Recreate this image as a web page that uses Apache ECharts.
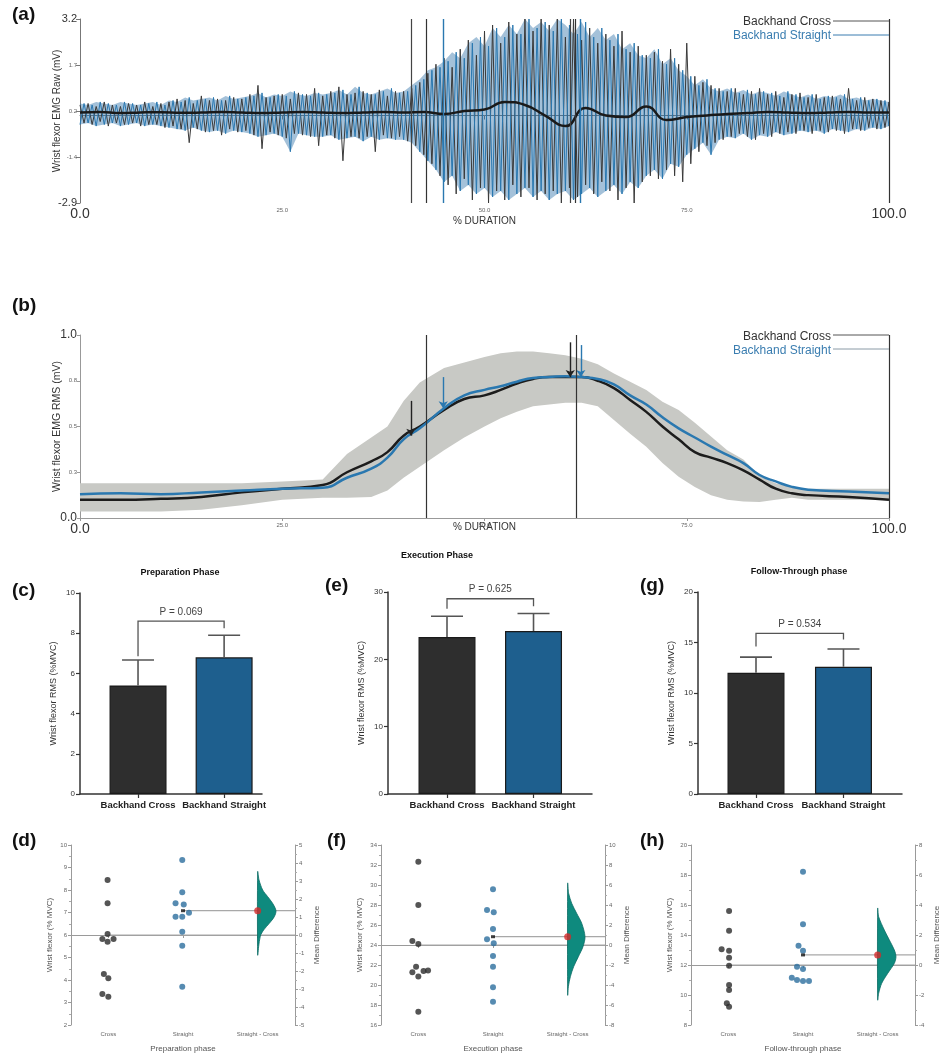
<!DOCTYPE html>
<html>
<head>
<meta charset="utf-8">
<script src="https://cdn.jsdelivr.net/npm/echarts@6/dist/echarts.min.js"></script>
<style>
  html, body { margin: 0; padding: 0; background: #fff; }
  #chart { width: 942px; height: 1063px; }
</style>
</head>
<body>
<div id="chart"></div>
<script>
const FONT = '"Liberation Sans", Arial, Helvetica, sans-serif';
const BLUE = '#2a78b0';

// ---- (a) raw EMG: upper / lower swing per 1 % of the stroke (0..100) ----
const pctTicks = [0, 25, 50, 75, 100];
const pctLabels = ['0.0', '25.0', '50.0', '75.0', '100.0'];
const rawTicks = [-2.9, -1.375, 0.15, 1.675, 3.2];
const rawLabels = ['-2.9', '-1.4', '0.2', '1.7', '3.2'];

const crossUp = [
  0.35, 0.4, 0.3, 0.45, 0.35, 0.3, 0.4, 0.35, 0.45, 0.3,
  0.4, 0.45, 0.55, 0.5, 0.4, 0.65, 0.5, 0.55, 0.5, 0.6,
  0.55, 0.7, 1.0, 0.6, 0.65, 0.7, 0.55, 0.75, 0.7, 0.9,
  0.65, 0.8, 0.95, 0.7, 0.75, 0.8, 0.7, 0.85, 0.65, 0.8,
  0.8, 0.9, 1.1, 1.4, 1.7, 1.9, 1.6, 2.2, 2.5, 2.0,
  2.8, 3.0, 2.4, 3.1, 2.7, 3.2, 2.8, 3.2, 3.0, 3.2,
  2.6, 3.2, 2.5, 2.9, 2.4, 2.7, 2.3, 2.8, 2.1, 2.3,
  2.0, 2.1, 1.8, 2.2, 1.7, 2.4, 1.3, 1.1, 1.0, 0.9,
  0.8, 0.9, 0.7, 0.8, 0.9, 0.7, 0.8, 0.6, 0.7, 0.75,
  0.6, 0.7, 0.6, 0.65, 0.55, 0.9, 0.5, 0.6, 0.55, 0.5, 0.45
];
const crossLo = [
  -0.25, -0.3, -0.2, -0.35, -0.25, -0.3, -0.25, -0.35, -0.3, -0.3,
  -0.4, -0.35, -0.45, -0.9, -0.45, -0.55, -0.5, -0.65, -0.45, -0.55,
  -0.5, -0.65, -1.1, -0.55, -0.65, -0.75, -0.6, -0.65, -0.7, -1.0,
  -0.65, -0.75, -1.5, -0.7, -0.75, -0.7, -1.2, -0.65, -0.75, -0.7,
  -0.85, -1.0, -1.3, -1.6, -2.0, -2.3, -2.6, -2.1, -2.8, -2.4,
  -2.9, -2.5, -2.8, -2.3, -2.7, -2.4, -2.8, -2.6, -2.5, -2.9,
  -2.4, -2.7, -2.3, -2.6, -2.2, -2.5, -2.8, -2.4, -2.9, -2.2,
  -2.0, -2.1, -1.8, -2.0, -2.2, -1.6, -1.2, -1.0, -0.9, -0.8,
  -0.7, -0.6, -0.7, -0.8, -0.6, -0.7, -0.6, -0.55, -0.6, -0.5,
  -0.6, -0.5, -0.55, -0.5, -0.6, -0.45, -0.5, -0.4, -0.45, -0.4, -0.35
];
const straightUp = [
  0.4, 0.35, 0.45, 0.4, 0.35, 0.45, 0.4, 0.35, 0.4, 0.45,
  0.35, 0.5, 0.45, 0.6, 0.5, 0.55, 0.6, 0.5, 0.65, 0.55,
  0.6, 0.65, 0.75, 0.6, 0.7, 0.65, 0.8, 0.7, 0.65, 0.75,
  0.7, 0.75, 0.85, 0.7, 0.95, 0.75, 0.7, 0.8, 0.9, 0.75,
  0.8, 1.0, 1.2, 1.5, 1.6, 1.8, 2.1, 1.9, 2.4, 2.6,
  2.3, 2.9, 2.6, 3.0, 2.7, 3.2, 2.9, 3.1, 2.8, 3.2,
  3.0, 2.7, 3.1, 2.6, 2.9, 2.5, 2.7, 2.2, 2.4, 2.0,
  1.9, 2.2, 1.7, 1.9, 1.5, 1.3, 1.0, 1.2, 0.9, 0.8,
  0.9, 0.75, 0.85, 0.7, 0.8, 0.75, 0.65, 0.8, 0.7, 0.6,
  0.7, 0.55, 0.65, 0.6, 0.7, 0.55, 0.6, 0.5, 0.55, 0.5, 0.45
];
const straightLo = [
  -0.3, -0.25, -0.35, -0.3, -0.25, -0.35, -0.3, -0.25, -0.35, -0.3,
  -0.35, -0.4, -0.45, -0.5, -0.4, -0.5, -0.55, -0.5, -0.6, -0.5,
  -0.55, -0.6, -0.7, -0.65, -0.6, -0.7, -1.2, -0.6, -0.65, -0.7,
  -0.7, -0.65, -0.8, -0.75, -0.7, -0.85, -0.7, -0.8, -0.75, -0.8,
  -0.8, -0.9, -1.2, -1.5, -1.8, -2.2, -2.0, -2.5, -2.3, -2.6,
  -2.4, -2.7, -2.5, -2.8, -2.6, -2.4, -2.7, -2.5, -2.8, -2.6,
  -2.5, -2.8, -2.6, -2.4, -2.7, -2.5, -2.3, -2.6, -2.2, -2.4,
  -2.0, -1.8, -2.1, -1.6, -1.7, -1.3, -1.1, -0.9, -1.3, -0.8,
  -0.7, -0.75, -0.6, -0.8, -0.65, -0.7, -0.55, -0.65, -0.6, -0.5,
  -0.55, -0.5, -0.6, -0.45, -0.5, -0.55, -0.45, -0.5, -0.4, -0.45, -0.35
];
// ensemble mean, every 2.5 %
const rawMean = [
  0.1, 0.12, 0.08, 0.1, 0.11, 0.09, 0.1, 0.12, 0.1, 0.08,
  0.1, 0.12, 0.1, 0.08, 0.1, 0.12, 0.1, 0.12, 0.05, 0.15,
  0.2, 0.45, 0.35, 0.0, -0.35, 0.25, 0.0, -0.05, 0.3, -0.15,
  -0.05, 0.0, 0.05, 0.08, 0.12, 0.1, 0.08, 0.1, 0.12, 0.1, 0.1
];
const crossEventsA = [40.9, 60.6];
const straightEventsA = [44.9, 61.8];
const phaseLines = [42.8, 61.2];

// ---- (b) RMS envelope ----
const rmsTicks = [0, 0.25, 0.5, 0.75, 1];
const rmsLabels = ['0.0', '0.3', '0.5', '0.8', '1.0'];
const rmsX = [0, 5, 10, 15, 20, 25, 30, 33, 36, 38, 40, 42, 45, 47.5, 50, 52, 54, 56, 58, 60,
  62, 64, 66, 68, 70, 72, 74, 76, 78, 80, 82, 84, 86, 88, 90, 95, 100];
const rmsCross = [0.1, 0.1, 0.105, 0.115, 0.14, 0.16, 0.18, 0.25, 0.31, 0.36, 0.45, 0.5, 0.59, 0.65, 0.67, 0.7, 0.735, 0.76, 0.77, 0.77,
  0.77, 0.75, 0.71, 0.645, 0.58, 0.5, 0.43, 0.36, 0.33, 0.3, 0.26, 0.21, 0.16, 0.135, 0.125, 0.115, 0.1];
const rmsStraight = [0.13, 0.135, 0.13, 0.14, 0.15, 0.16, 0.165, 0.22, 0.27, 0.33, 0.43, 0.49, 0.6, 0.67, 0.7, 0.72, 0.745, 0.765, 0.77, 0.775,
  0.77, 0.76, 0.73, 0.67, 0.62, 0.55, 0.49, 0.44, 0.39, 0.345, 0.3, 0.235, 0.2, 0.17, 0.155, 0.145, 0.135];
const rmsSdHi = [0.19, 0.19, 0.19, 0.19, 0.19, 0.2, 0.21, 0.35, 0.44, 0.5, 0.64, 0.74, 0.82, 0.85, 0.88, 0.9, 0.91, 0.91, 0.9, 0.89,
  0.87, 0.84, 0.79, 0.745, 0.7, 0.635, 0.59, 0.52, 0.445, 0.37, 0.32, 0.23, 0.19, 0.17, 0.16, 0.16, 0.16];
const rmsSdLo = [0.035, 0.035, 0.035, 0.045, 0.07, 0.1, 0.11, 0.11, 0.115, 0.15, 0.22, 0.28, 0.37, 0.44, 0.5, 0.545, 0.58, 0.61, 0.62, 0.63,
  0.63, 0.61, 0.535, 0.46, 0.39, 0.3, 0.225, 0.17, 0.125, 0.1, 0.09, 0.087, 0.1, 0.11, 0.1, 0.1, 0.1];
const rmsPhaseLines = [42.8, 61.3, 100];
// [x, from, to]
const arrowsCross = [[40.9, 0.64, 0.45], [60.6, 0.96, 0.77]];
const arrowsStraight = [[44.9, 0.77, 0.6], [61.9, 0.945, 0.77]];

// ---- (c)(e)(g) phase means ----
const groups = ['Backhand Cross', 'Backhand Straight'];
const prepMean = [5.4, 6.8];
const prepSD = [1.27, 1.1];
const execMean = [23.3, 24.2];
const execSD = [3.1, 2.6];
const followMean = [12.0, 12.6];
const followSD = [1.55, 1.75];
const pValues = ['0.069', '0.625', '0.534'];
// [bar top, left leg end, right leg end]
const brackets = [[8.6, 6.85, 8.25], [29.0, 27.5, 27.9], [15.9, 14.6, 15.3]];

// ---- (d)(f)(h) estimation plots: [swarm x, value] ----
const estCats = ['Cross', 'Straight', 'Straight - Cross'];
const prepCross = [[0.49, 8.44], [0.49, 7.41], [0.42, 5.82], [0.49, 6.04], [0.57, 5.82], [0.49, 5.7], [0.44, 4.27], [0.5, 4.08], [0.42, 3.38], [0.5, 3.26]];
const prepStraight = [[1.49, 9.33], [1.49, 7.9], [1.4, 7.41], [1.51, 7.36], [1.58, 6.99], [1.4, 6.81], [1.49, 6.81], [1.49, 6.15], [1.49, 5.52], [1.49, 3.7]];
const execCross = [[0.5, 32.33], [0.5, 28.0], [0.42, 24.4], [0.5, 24.1], [0.47, 21.83], [0.42, 21.27], [0.57, 21.4], [0.63, 21.45], [0.5, 20.85], [0.5, 17.33]];
const execStraight = [[1.5, 29.57], [1.42, 27.5], [1.51, 27.27], [1.5, 25.6], [1.42, 24.57], [1.51, 24.17], [1.5, 22.9], [1.5, 21.83], [1.5, 19.77], [1.5, 18.33]];
const followCross = [[0.51, 15.6], [0.51, 14.29], [0.41, 13.05], [0.51, 12.95], [0.51, 12.49], [0.51, 11.95], [0.51, 10.67], [0.51, 10.33], [0.48, 9.45], [0.51, 9.22]];
const followStraight = [[1.5, 18.22], [1.5, 14.71], [1.44, 13.29], [1.5, 12.95], [1.42, 11.89], [1.5, 11.73], [1.35, 11.15], [1.42, 11.0], [1.5, 10.93], [1.58, 10.93]];
// [cross mean, straight mean, mean difference]
const prepMeans = [6.0, 7.08, 1.35];
const execMeans = [24.0, 24.83, 0.83];
const followMeans = [12.0, 12.67, 0.67];
// bootstrap distribution outline: mean difference values and half-widths
const prepDistY = [3.52, 3.06, 2.5, 2.13, 1.76, 1.35, 1.02, 0.65, 0.28, -0.06, -0.65, -1.11];
const prepDistW = [0, 0.018, 0.067, 0.134, 0.2, 0.245, 0.223, 0.156, 0.08, 0.036, 0.013, 0];
const execDistY = [6.17, 5.17, 4.17, 3.17, 2.17, 0.83, -0.17, -1.17, -2.17, -3.17, -4.17, -5];
const execDistW = [0, 0.013, 0.054, 0.12, 0.188, 0.232, 0.205, 0.143, 0.08, 0.036, 0.009, 0];
const followDistY = [3.78, 3.22, 2.33, 1.67, 1.0, 0.56, 0.11, -0.56, -1.22, -1.89, -2.33];
const followDistW = [0, 0.013, 0.089, 0.156, 0.223, 0.245, 0.223, 0.134, 0.054, 0.013, 0];

// ---------------------------------------------------------------
function tickFmt(ticks, labels) {
  return (v) => {
    const i = ticks.findIndex((t) => Math.abs(t - v) < 1e-6);
    if (i < 0) return '';
    const big = i === 0 || i === ticks.length - 1;
    return '{' + (big ? 'b' : 's') + '|' + labels[i] + '}';
  };
}

function zigzag(up, lo, flip) {
  const pts = [];
  for (let i = 0; i < up.length; i++) {
    if (flip) {
      pts.push([i, lo[i]]);
      pts.push([i + 0.5, up[i]]);
    } else {
      pts.push([i, up[i]]);
      pts.push([i + 0.5, lo[i]]);
    }
  }
  return pts;
}

// filled band between two curves, drawn through the axis scales
function bandSeries(xi, yi, xs, hi, lo, fill, z, smooth) {
  return {
    type: 'custom', xAxisIndex: xi, yAxisIndex: yi, z: z, silent: true,
    data: [[xs[0], lo[0]]],
    renderItem: (params, api) => {
      const top = xs.map((x, i) => api.coord([x, hi[i]]));
      const bot = xs.map((x, i) => api.coord([x, lo[i]])).reverse();
      return { type: 'polygon', shape: { points: top.concat(bot), smooth: smooth }, style: { fill: fill } };
    }
  };
}

function vLines(xs, color, width) {
  return {
    silent: true, symbol: 'none', label: { show: false },
    lineStyle: { color: color, width: width, type: 'solid' },
    data: xs.map((x) => ({ xAxis: x }))
  };
}

function arrowLines(list, color) {
  return {
    silent: true, symbol: ['none', 'arrow'], symbolSize: 7, label: { show: false },
    lineStyle: { color: color, width: 1.4, type: 'solid' },
    data: list.map((a) => [{ coord: [a[0], a[1]] }, { coord: [a[0], a[2]] }])
  };
}

const bigSmallRich = (big, small) => ({
  b: { fontSize: big, color: '#333', fontFamily: FONT },
  s: { fontSize: small, color: '#666', fontFamily: FONT }
});

// bar panels ---------------------------------------------------------
function barXAxis(grid, min, max) {
  return {
    gridIndex: grid, type: 'value', min: min, max: max,
    axisLine: { show: true, lineStyle: { color: '#333', width: 1.5 } },
    axisTick: { show: true, customValues: [1, 2], length: 4, lineStyle: { color: '#333', width: 1.2 } },
    axisLabel: {
      customValues: [1, 2], margin: 6,
      formatter: (v) => groups[Math.round(v) - 1] || '',
      fontSize: 9.5, fontWeight: 'bold', color: '#222', fontFamily: FONT
    },
    splitLine: { show: false }
  };
}
function barYAxis(grid, max, interval) {
  return {
    gridIndex: grid, type: 'value', min: 0, max: max, interval: interval,
    axisLine: { show: true, lineStyle: { color: '#333', width: 1.5 } },
    axisTick: { show: true, length: 4, lineStyle: { color: '#333', width: 1.2 } },
    axisLabel: { fontSize: 8, color: '#333', fontFamily: FONT, margin: 5 },
    splitLine: { show: false },
    name: 'Wrist flexor RMS (%MVC)', nameLocation: 'middle', nameGap: 22, nameRotate: 90, nameMoveOverlap: false,
    nameTextStyle: { fontSize: 9, color: '#333', fontFamily: FONT }
  };
}
function barSeries(axis, means) {
  return {
    type: 'bar', xAxisIndex: axis, yAxisIndex: axis, barWidth: 57, z: 2,
    data: means.map((m, i) => ({
      value: [i + 1, m],
      itemStyle: { color: i === 0 ? '#2e2e2e' : '#1e5f8e', borderColor: '#1a1a1a', borderWidth: 1.2 }
    }))
  };
}
function errorSeries(axis, means, sds) {
  return {
    type: 'custom', xAxisIndex: axis, yAxisIndex: axis, z: 3,
    data: means.map((m, i) => [i + 1, m, m + sds[i]]),
    encode: { x: 0, y: [1, 2] },
    renderItem: (params, api) => {
      const lo = api.coord([api.value(0), api.value(1)]);
      const hi = api.coord([api.value(0), api.value(2)]);
      const st = { stroke: '#555', lineWidth: 1.6 };
      return {
        type: 'group', children: [
          { type: 'line', shape: { x1: lo[0], y1: lo[1], x2: hi[0], y2: hi[1] }, style: st },
          { type: 'line', shape: { x1: hi[0] - 16, y1: hi[1], x2: hi[0] + 16, y2: hi[1] }, style: st }
        ]
      };
    }
  };
}
function bracketSeries(axis, br, p) {
  return {
    type: 'custom', xAxisIndex: axis, yAxisIndex: axis, z: 3,
    data: [[1, br[0], br[1], br[2]]],
    encode: { x: 0, y: [1, 2, 3] },
    renderItem: (params, api) => {
      const top = api.value(1);
      const a = api.coord([1, api.value(2)]);
      const b = api.coord([1, top]);
      const c = api.coord([2, top]);
      const d = api.coord([2, api.value(3)]);
      return {
        type: 'group', children: [
          { type: 'polyline', shape: { points: [a, b, c, d] }, style: { stroke: '#555', lineWidth: 1.3, fill: 'none' } },
          {
            type: 'text', x: (b[0] + c[0]) / 2, y: b[1] - 4,
            style: { text: 'P = ' + p, fill: '#444', font: '10px ' + FONT, align: 'center', verticalAlign: 'bottom' }
          }
        ]
      };
    }
  };
}

// estimation panels --------------------------------------------------
const estAxisStyle = {
  axisLine: { show: true, lineStyle: { color: '#9a9a9a' } },
  axisTick: { show: true, length: 3, lineStyle: { color: '#9a9a9a' } },
  minorTick: { show: true, splitNumber: 2, length: 2, lineStyle: { color: '#aaa' } },
  axisLabel: { fontSize: 6, color: '#666', fontFamily: FONT, margin: 4 },
  splitLine: { show: false },
  nameMoveOverlap: false
};
function estYAxes(grid, lmin, lmax, lint, rmin, rmax, rint) {
  return [
    Object.assign({
      gridIndex: grid, type: 'value', min: lmin, max: lmax, interval: lint,
      name: 'Wrist flexor (% MVC)', nameLocation: 'middle', nameGap: 17, nameRotate: 90,
      nameTextStyle: { fontSize: 8, color: '#555', fontFamily: FONT }
    }, estAxisStyle),
    Object.assign({
      gridIndex: grid, type: 'value', position: 'right', min: rmin, max: rmax, interval: rint,
      name: 'Mean Difference', nameLocation: 'middle', nameGap: 18, nameRotate: 90,
      nameTextStyle: { fontSize: 8, color: '#555', fontFamily: FONT }
    }, estAxisStyle)
  ];
}
function estXAxes(grid, title) {
  return [
    {
      gridIndex: grid, type: 'category', data: estCats,
      axisLine: { show: true, lineStyle: { color: '#9a9a9a' } },
      axisTick: { show: true, alignWithLabel: true, length: 3, lineStyle: { color: '#9a9a9a' } },
      axisLabel: { fontSize: 6, color: '#666', fontFamily: FONT, margin: 6 },
      name: title, nameLocation: 'middle', nameGap: 20, nameMoveOverlap: false,
      nameTextStyle: { fontSize: 8, color: '#555', fontFamily: FONT }
    },
    { gridIndex: grid, type: 'value', min: 0, max: 3, show: false }
  ];
}
function estSeries(xv, yl, yr, crossPts, straightPts, means, distY, distW) {
  return [
    {
      type: 'line', xAxisIndex: xv, yAxisIndex: yl, symbol: 'none', silent: true, z: 1,
      lineStyle: { color: '#a8a8a8', width: 1.2 },
      data: [[0.5, means[0]], [3, means[0]]]
    },
    {
      type: 'line', xAxisIndex: xv, yAxisIndex: yr, symbol: 'none', silent: true, z: 1,
      lineStyle: { color: '#a8a8a8', width: 1.2 },
      data: [[1.5, means[2]], [3, means[2]]]
    },
    {
      type: 'custom', xAxisIndex: xv, yAxisIndex: yr, z: 2,
      data: [[2.5, means[2]]],
      renderItem: (params, api) => {
        const pts = distY.map((y, k) => api.coord([2.5 + distW[k], y]));
        return {
          type: 'polygon', shape: { points: pts, smooth: 0.3 },
          style: { fill: '#0e8a7e', stroke: '#0a6b63', lineWidth: 0.8 }
        };
      }
    },
    {
      type: 'scatter', xAxisIndex: xv, yAxisIndex: yl, symbolSize: 6, z: 3,
      itemStyle: { color: '#2b2b2b' }, data: crossPts
    },
    {
      type: 'scatter', xAxisIndex: xv, yAxisIndex: yl, symbolSize: 6, z: 3,
      itemStyle: { color: '#2c6e9e' }, data: straightPts
    },
    {
      type: 'scatter', xAxisIndex: xv, yAxisIndex: yl, symbol: 'rect', symbolSize: [4, 3], z: 4,
      itemStyle: { color: '#111' }, data: [[1.5, means[1]]]
    },
    {
      type: 'scatter', xAxisIndex: xv, yAxisIndex: yr, symbolSize: 7, z: 4,
      itemStyle: { color: '#d42a2a' }, data: [[2.5, means[2]]]
    }
  ];
}

// ---------------------------------------------------------------
const pctIdx = crossUp.map((v, i) => i);

const option = {
  animation: false,
  backgroundColor: '#fff',
  textStyle: { fontFamily: FONT },
  title: [
    { text: '(a)', left: 12, top: 5 },
    { text: '(b)', left: 12, top: 296 },
    { text: '(c)', left: 12, top: 581 },
    { text: '(e)', left: 325, top: 576 },
    { text: '(g)', left: 640, top: 576 },
    { text: '(d)', left: 12, top: 831 },
    { text: '(f)', left: 327, top: 831 },
    { text: '(h)', left: 640, top: 831 }
  ].map((t) => Object.assign(t, {
    padding: 0,
    textStyle: { fontSize: 19, fontWeight: 'bold', color: '#111', fontFamily: FONT }
  })).concat([
    { text: 'Preparation Phase', left: 180, top: 568 },
    { text: 'Execution Phase', left: 437, top: 551 },
    { text: 'Follow-Through phase', left: 799, top: 567 }
  ].map((t) => Object.assign(t, {
    padding: 0, textAlign: 'center',
    textStyle: { fontSize: 9, fontWeight: 'bold', color: '#111', fontFamily: FONT }
  }))),
  graphic: [
    { type: 'text', z: 100, x: 831, y: 22, style: { text: 'Backhand Cross', fill: '#333', font: '12px ' + FONT, align: 'right', verticalAlign: 'middle' } },
    { type: 'text', z: 100, x: 831, y: 36, style: { text: 'Backhand Straight', fill: '#3a7db0', font: '12px ' + FONT, align: 'right', verticalAlign: 'middle' } },
    { type: 'line', z: 100, shape: { x1: 833, y1: 21, x2: 889, y2: 21 }, style: { stroke: '#555', lineWidth: 1 } },
    { type: 'line', z: 100, shape: { x1: 833, y1: 35, x2: 889, y2: 35 }, style: { stroke: '#3a7db0', lineWidth: 1 } },
    { type: 'text', z: 100, x: 831, y: 337, style: { text: 'Backhand Cross', fill: '#333', font: '12px ' + FONT, align: 'right', verticalAlign: 'middle' } },
    { type: 'text', z: 100, x: 831, y: 351, style: { text: 'Backhand Straight', fill: '#3a7db0', font: '12px ' + FONT, align: 'right', verticalAlign: 'middle' } },
    { type: 'line', z: 100, shape: { x1: 833, y1: 335, x2: 889, y2: 335 }, style: { stroke: '#555', lineWidth: 1 } },
    { type: 'line', z: 100, shape: { x1: 833, y1: 349, x2: 889, y2: 349 }, style: { stroke: '#8a9aa6', lineWidth: 1 } }
  ],
  grid: [
    { left: 80, top: 19, width: 809, height: 184 },
    { left: 80, top: 335, width: 809, height: 183 },
    { left: 80, top: 593, width: 182, height: 201 },
    { left: 388, top: 592, width: 204, height: 202 },
    { left: 698, top: 592, width: 204, height: 202 },
    { left: 71, top: 845, width: 224, height: 180 },
    { left: 381, top: 845, width: 224, height: 180 },
    { left: 691, top: 845, width: 224, height: 180 }
  ],
  xAxis: [
    {
      gridIndex: 0, type: 'value', min: 0, max: 100, interval: 25,
      axisLine: { show: true, lineStyle: { color: '#777' } },
      axisTick: { show: true, length: 4, lineStyle: { color: '#777' } },
      axisLabel: { formatter: tickFmt(pctTicks, pctLabels), rich: bigSmallRich(14, 6), margin: 4 },
      splitLine: { show: false },
      name: '% DURATION', nameLocation: 'middle', nameGap: 13, nameMoveOverlap: false,
      nameTextStyle: { fontSize: 10, color: '#333', fontFamily: FONT }
    },
    {
      gridIndex: 1, type: 'value', min: 0, max: 100, interval: 25,
      axisLine: { show: true, lineStyle: { color: '#999' } },
      axisTick: { show: true, length: 3, lineStyle: { color: '#999' } },
      axisLabel: { formatter: tickFmt(pctTicks, pctLabels), rich: bigSmallRich(14, 6), margin: 4 },
      splitLine: { show: false },
      name: '% DURATION', nameLocation: 'middle', nameGap: 4, nameMoveOverlap: false,
      nameTextStyle: { fontSize: 10, color: '#333', fontFamily: FONT }
    },
    barXAxis(2, 0.326, 2.44),
    barXAxis(3, 0.318, 2.676),
    barXAxis(4, 0.337, 2.669)
  ].concat(estXAxes(5, 'Preparation phase'), estXAxes(6, 'Execution phase'), estXAxes(7, 'Follow-through phase')),
  yAxis: [
    {
      gridIndex: 0, type: 'value', min: -2.9, max: 3.2,
      axisLine: { show: true, lineStyle: { color: '#777' } },
      axisTick: { show: true, customValues: rawTicks, length: 4, lineStyle: { color: '#777' } },
      axisLabel: { customValues: rawTicks, formatter: tickFmt(rawTicks, rawLabels), rich: bigSmallRich(11, 6), margin: 3 },
      splitLine: { show: false },
      name: 'Wrist flexor EMG Raw (mV)', nameLocation: 'middle', nameGap: 18, nameRotate: 90, nameMoveOverlap: false,
      nameTextStyle: { fontSize: 10, color: '#333', fontFamily: FONT }
    },
    {
      gridIndex: 1, type: 'value', min: 0, max: 1, interval: 0.25,
      axisLine: { show: true, lineStyle: { color: '#999' } },
      axisTick: { show: true, length: 3, lineStyle: { color: '#999' } },
      axisLabel: { formatter: tickFmt(rmsTicks, rmsLabels), rich: bigSmallRich(12, 6), margin: 3 },
      splitLine: { show: false },
      name: 'Wrist flexor EMG RMS (mV)', nameLocation: 'middle', nameGap: 17, nameRotate: 90, nameMoveOverlap: false,
      nameTextStyle: { fontSize: 10.5, color: '#333', fontFamily: FONT }
    },
    barYAxis(2, 10, 2),
    barYAxis(3, 30, 10),
    barYAxis(4, 20, 5)
  ].concat(estYAxes(5, 2, 10, 1, -5, 5, 1), estYAxes(6, 16, 34, 2, -8, 10, 2), estYAxes(7, 8, 20, 2, -4, 8, 2)),
  series: [
    // (a)
    bandSeries(0, 0, pctIdx, straightUp, straightLo, 'rgba(38,108,165,0.42)', 1, 0),
    {
      type: 'line', xAxisIndex: 0, yAxisIndex: 0, symbol: 'none', z: 2,
      lineStyle: { color: '#3a3a3a', width: 1 },
      data: zigzag(crossUp, crossLo, false),
      markLine: vLines(crossEventsA, '#444', 1.2)
    },
    {
      type: 'line', xAxisIndex: 0, yAxisIndex: 0, symbol: 'none', z: 3,
      lineStyle: { color: BLUE, width: 1 },
      data: zigzag(straightUp, straightLo, true),
      markLine: vLines(straightEventsA, BLUE, 1.4)
    },
    {
      type: 'line', xAxisIndex: 0, yAxisIndex: 0, symbol: 'none', z: 4, smooth: true,
      lineStyle: { color: '#1a1a1a', width: 2.5 },
      data: rawMean.map((v, i) => [i * 2.5, v]),
      markLine: vLines(phaseLines.concat([100]), '#333', 1.2)
    },
    // (b)
    bandSeries(1, 1, rmsX, rmsSdHi, rmsSdLo, '#c8c9c5', 1, 0),
    {
      type: 'line', xAxisIndex: 1, yAxisIndex: 1, symbol: 'none', smooth: true, z: 3,
      lineStyle: { color: '#1c1c1c', width: 2.5 },
      data: rmsX.map((x, i) => [x, rmsCross[i]]),
      markLine: arrowLines(arrowsCross, '#222')
    },
    {
      type: 'line', xAxisIndex: 1, yAxisIndex: 1, symbol: 'none', smooth: true, z: 4,
      lineStyle: { color: BLUE, width: 2.5 },
      data: rmsX.map((x, i) => [x, rmsStraight[i]]),
      markLine: arrowLines(arrowsStraight, BLUE)
    },
    {
      type: 'line', xAxisIndex: 1, yAxisIndex: 1, symbol: 'none', z: 5, data: [],
      markLine: vLines(rmsPhaseLines, '#333', 1.2)
    },
    // (c)(e)(g)
    barSeries(2, prepMean), errorSeries(2, prepMean, prepSD), bracketSeries(2, brackets[0], pValues[0]),
    barSeries(3, execMean), errorSeries(3, execMean, execSD), bracketSeries(3, brackets[1], pValues[1]),
    barSeries(4, followMean), errorSeries(4, followMean, followSD), bracketSeries(4, brackets[2], pValues[2])
  ].concat(
    // (d)(f)(h): x value axes are 6, 8, 10; y axes left/right 5-6, 7-8, 9-10
    estSeries(6, 5, 6, prepCross, prepStraight, prepMeans, prepDistY, prepDistW),
    estSeries(8, 7, 8, execCross, execStraight, execMeans, execDistY, execDistW),
    estSeries(10, 9, 10, followCross, followStraight, followMeans, followDistY, followDistW)
  )
};

const chart = echarts.init(document.getElementById('chart'), null, { renderer: 'canvas' });
chart.setOption(option);
</script>
</body>
</html>
